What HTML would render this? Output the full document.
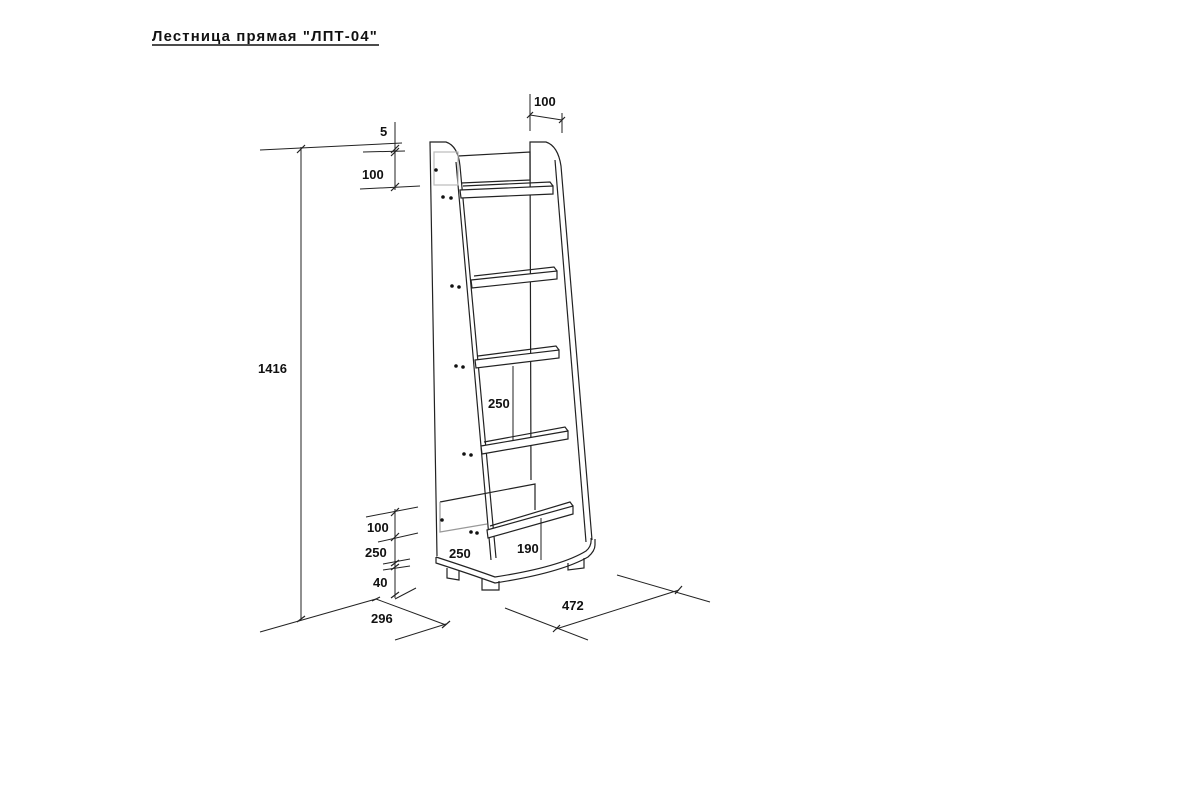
<!DOCTYPE html>
<html><head><meta charset="utf-8"><style>
html,body{margin:0;padding:0;background:#fff;}
svg{display:block}
text{font-family:"Liberation Sans","DejaVu Sans",sans-serif;font-weight:bold;fill:#111}
</style></head><body>
<svg width="1200" height="800" viewBox="0 0 1200 800" xmlns="http://www.w3.org/2000/svg">
<rect width="1200" height="800" fill="#fff"/>
<text x="152" y="41" font-size="15" letter-spacing="1.2" textLength="226" lengthAdjust="spacingAndGlyphs">Лестница прямая "ЛПТ-04"</text>
<line x1="152" y1="45" x2="379" y2="45" stroke="#111" stroke-width="1.6"/>

<g fill="none" stroke="#222" stroke-width="1.2">
<!-- left panel -->
<path d="M437 556 L430 142 L446 142 Q458 146 460 166 L496 558"/>
<line x1="456" y1="162" x2="491" y2="560"/>
<!-- right panel -->
<path d="M531 480 L530 142 L546 142 Q558 146 561 166 L592 540"/>
<line x1="555" y1="160" x2="586" y2="542"/>
<!-- top back panel -->
<path d="M458 156 L530 152 L530 180 L461 183"/>
<rect x="434" y="152" width="24" height="33" stroke="#bbb"/>
<!-- bottom back panel -->
<path d="M440 502 L535 484 L535 510" />
<path d="M440 502 L440 532 L487 524" stroke="#999"/>
<!-- shelves -->
<g fill="#fff">
<polygon points="460,190 553,186 553,194 461,198"/>
<polygon points="471,280 557,271 557,279 472,288"/>
<polygon points="475,360 559,350 559,358 476,368"/>
<polygon points="481,446 568,431 568,439 482,454"/>
<polygon points="487,530 573,506 573,514 488,538"/>
</g>
<path d="M463 186 L550 182 L553 186"/>
<path d="M474 276 L554 267 L557 271"/>
<path d="M478 356 L556 346 L559 350"/>
<path d="M484 442 L565 427 L568 431"/>
<path d="M490 526 L570 502 L573 506"/>
<!-- base -->
<path d="M436 557 L436 563 Q470 574 495 583 Q560 573 588 557 Q595 551 595 545 L595 539"/>
<path d="M436 557 Q470 568 495 577 Q560 567 586 551 Q592 546 591 538"/>
<path d="M447 568 L447 578 L459 580 L459 571"/>
<path d="M482 579 L482 590 L499 590 L499 581"/>
<path d="M568 563 L568 570 L584 568 L584 558"/>
</g>
<!-- dots -->
<g fill="#111">
<circle cx="436" cy="170" r="1.8"/><circle cx="442" cy="520" r="1.8"/>
<circle cx="443" cy="197" r="1.8"/><circle cx="451" cy="198" r="1.8"/>
<circle cx="452" cy="286" r="1.8"/><circle cx="459" cy="287" r="1.8"/>
<circle cx="456" cy="366" r="1.8"/><circle cx="463" cy="367" r="1.8"/>
<circle cx="464" cy="454" r="1.8"/><circle cx="471" cy="455" r="1.8"/>
<circle cx="471" cy="532" r="1.8"/><circle cx="477" cy="533" r="1.8"/>
</g>

<!-- dimensions -->
<g fill="none" stroke="#222" stroke-width="1">
<line x1="301" y1="147" x2="301" y2="620"/>
<line x1="260" y1="150" x2="402" y2="143"/>
<line x1="260" y1="632" x2="376" y2="599"/>
<line x1="376" y1="599" x2="446" y2="625"/>
<line x1="395" y1="640" x2="446" y2="624"/>
<line x1="505" y1="608" x2="588" y2="640"/>
<line x1="556" y1="629" x2="679" y2="590"/>
<line x1="617" y1="575" x2="710" y2="602"/>
<line x1="395" y1="122" x2="395" y2="190"/>
<line x1="363" y1="152" x2="405" y2="151"/>
<line x1="360" y1="189" x2="420" y2="186"/>
<line x1="395" y1="509" x2="395" y2="598"/>
<line x1="366" y1="517" x2="418" y2="507"/>
<line x1="378" y1="542" x2="418" y2="533"/>
<line x1="383" y1="564" x2="410" y2="559"/>
<line x1="383" y1="570" x2="410" y2="566"/>
<line x1="395" y1="599" x2="416" y2="588"/>
<line x1="530" y1="94" x2="530" y2="131"/>
<line x1="562" y1="113" x2="562" y2="133"/>
<line x1="530" y1="115" x2="562" y2="120"/>
<line x1="513" y1="366" x2="513" y2="440"/>
<line x1="541" y1="518" x2="541" y2="560"/>
<g stroke-width="1.2">
<line x1="297" y1="622" x2="305" y2="616"/>
<line x1="297" y1="153" x2="305" y2="145"/>
<line x1="372" y1="601" x2="380" y2="597"/>
<line x1="442" y1="628" x2="450" y2="621"/>
<line x1="553" y1="632" x2="560" y2="625"/>
<line x1="675" y1="594" x2="682" y2="586"/>
<line x1="391" y1="153" x2="399" y2="145"/>
<line x1="391" y1="156" x2="399" y2="148"/>
<line x1="391" y1="191" x2="399" y2="183"/>
<line x1="391" y1="516" x2="399" y2="508"/>
<line x1="391" y1="541" x2="399" y2="533"/>
<line x1="391" y1="566" x2="399" y2="560"/>
<line x1="391" y1="570" x2="399" y2="564"/>
<line x1="391" y1="598" x2="399" y2="592"/>
<line x1="527" y1="118" x2="533" y2="112"/>
<line x1="559" y1="123" x2="565" y2="117"/>
</g>
</g>
<g font-size="13">
<text x="258" y="373">1416</text>
<text x="380" y="136">5</text>
<text x="362" y="179">100</text>
<text x="534" y="106">100</text>
<text x="488" y="408">250</text>
<text x="367" y="532">100</text>
<text x="365" y="557">250</text>
<text x="373" y="587">40</text>
<text x="371" y="623">296</text>
<text x="449" y="558">250</text>
<text x="517" y="553">190</text>
<text x="562" y="610">472</text>
</g>
</svg>
</body></html>
